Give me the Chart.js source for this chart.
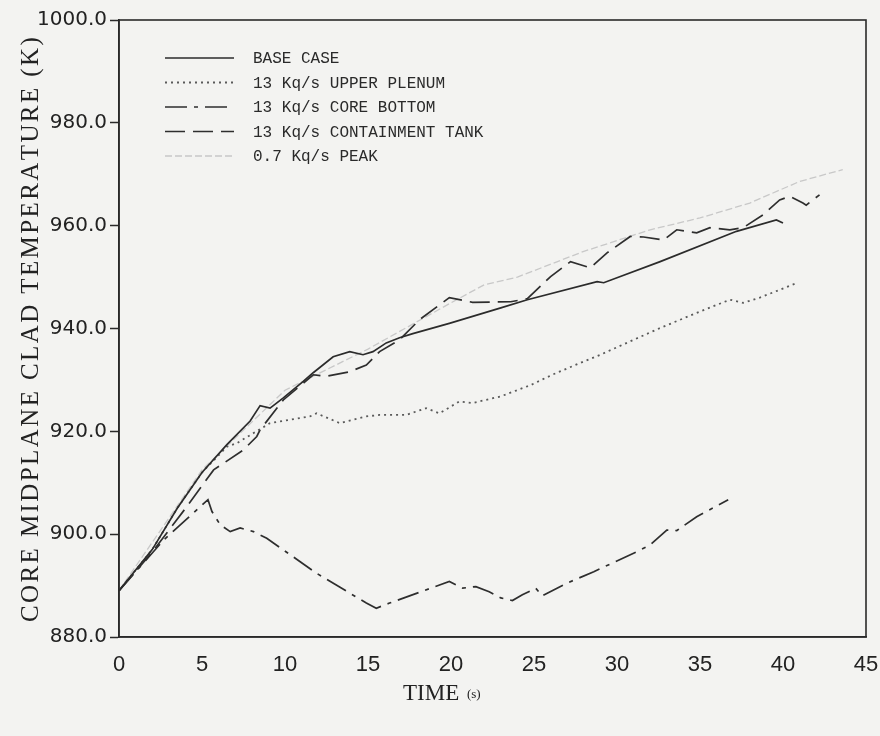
<!DOCTYPE html>
<html>
<head>
<meta charset="utf-8">
<script src="https://cdn.jsdelivr.net/npm/chart.js@4.4.1/dist/chart.umd.min.js"></script>
<style>
  html, body { margin: 0; padding: 0; background: #f3f3f1; }
  #wrap { width: 880px; height: 736px; position: relative; }
</style>
</head>
<body>
<div id="wrap"><canvas id="c" width="880" height="736"></canvas></div>
<script>
// ---- data (time in s, temperature in K) ----
const seriesLabels = ["BASE CASE", "13 Kq/s UPPER PLENUM", "13 Kq/s CORE BOTTOM", "13 Kq/s CONTAINMENT TANK", "0.7 Kq/s PEAK"];
const yTitleText = "CORE MIDPLANE CLAD TEMPERATURE (K)";

const baseTime = [0, 2, 3.5, 5, 6.5, 7.9, 8.5, 9.1, 9.9, 11.1, 11.7, 12.9, 13.9, 14.7, 15.3, 16.1, 16.9, 17.7, 19.9, 23, 24.6, 28.8, 29.2, 32.6, 37.2, 39.6, 40];
const baseTemp = [889, 897, 905, 912, 917.4, 922, 925, 924.5, 926.5, 929.7, 931.4, 934.5, 935.5, 934.9, 935.5, 937.2, 938.2, 939, 941, 944, 945.6, 949.1, 948.9, 953, 958.9, 961.1, 960.5];

const upperTime = [0, 2, 3.5, 5, 6.5, 7.1, 9.1, 11.5, 11.9, 13.3, 14.9, 15.7, 17.3, 18.5, 19.3, 20.5, 21.3, 23, 24.8, 26.1, 28, 29, 31, 32.6, 35, 36.8, 37.6, 38.6, 40.8];
const upperTemp = [889, 897, 905, 912, 917, 917.7, 921.6, 922.9, 923.5, 921.6, 922.9, 923.2, 923.2, 924.5, 923.5, 925.8, 925.5, 926.8, 929, 931, 933.6, 934.9, 937.8, 940.1, 943.3, 945.6, 945, 946, 948.8];

const bottomTime = [0, 2.7, 5.36, 5.6, 6.1, 6.7, 7.3, 8.1, 8.9, 11.9, 14.9, 15.5, 16.3, 19.9, 20.7, 21.5, 22.3, 23, 23.7, 24.3, 25.1, 25.5, 27, 28.6, 31.2, 32, 33, 33.6, 34.8, 36.7];
const bottomTemp = [889, 898.9, 906.7, 904.4, 901.8, 900.5, 901.2, 900.5, 899.2, 892.4, 886.6, 885.6, 886.6, 890.8, 889.5, 889.8, 888.8, 887.6, 887.1, 888.2, 889.5, 888, 890.5, 892.7, 896.6, 897.9, 900.8, 900.7, 903.4, 906.7];

const tankTime = [0, 2, 4, 5.7, 7.5, 8.3, 8.5, 9.9, 11.7, 12.5, 13.9, 14.9, 15.7, 16.9, 18.1, 19.9, 21.3, 23.6, 24.6, 26, 27.2, 28.4, 29.4, 30.8, 31.6, 32.8, 33.6, 34.8, 35.6, 36.8, 37.6, 38.8, 39.8, 40.4, 41.2, 41.4, 42.2];
const tankTemp = [889, 896.5, 905, 912.5, 916.4, 919, 920.3, 926.1, 931, 930.7, 931.6, 932.9, 935.5, 937.8, 941.7, 946, 945.1, 945.2, 945.8, 950.1, 953, 951.8, 954.7, 957.9, 957.8, 957.2, 959.2, 958.6, 959.6, 959.2, 959.6, 962.1, 965, 965.7, 964.4, 964, 966];

const peakTime = [0, 5, 10, 15, 20, 22, 24, 28, 32, 35, 38, 41, 43.6];
const peakTemp = [889, 912.5, 928, 936, 945, 948.5, 950, 955, 959.2, 961.5, 964.4, 968.6, 970.9];

const xTicks = [0, 5, 10, 15, 20, 25, 30, 35, 40, 45];
const yTicks = [880, 900, 920, 940, 960, 980, 1000];

function pts(t, v) { return t.map((x, i) => ({ x: x, y: v[i] })); }

const styles = [
  { color: '#2b2b2b', width: 1.7, dash: [] },
  { color: '#5a5a5a', width: 1.8, dash: [2, 4] },
  { color: '#2e2e2e', width: 1.7, dash: [22, 7, 4, 7] },
  { color: '#2e2e2e', width: 1.7, dash: [20, 8] },
  { color: '#c8c8c8', width: 1.3, dash: [7, 3] }
];
const seriesData = [
  pts(baseTime, baseTemp),
  pts(upperTime, upperTemp),
  pts(bottomTime, bottomTemp),
  pts(tankTime, tankTemp),
  pts(peakTime, peakTemp)
];

const datasets = seriesLabels.map((lab, i) => ({
  label: lab,
  data: seriesData[i],
  borderColor: styles[i].color,
  borderWidth: styles[i].width,
  borderDash: styles[i].dash,
  pointRadius: 0,
  fill: false,
  tension: 0
}));

const bgPlugin = {
  id: 'bg',
  beforeDraw(chart) {
    const ctx = chart.ctx;
    ctx.save();
    ctx.fillStyle = '#f3f3f1';
    ctx.fillRect(0, 0, chart.width, chart.height);
    ctx.restore();
  }
};

const framePlugin = {
  id: 'frame',
  afterDraw(chart) {
    const { ctx, chartArea: a } = chart;
    ctx.save();
    ctx.strokeStyle = '#2a2a2a';
    ctx.lineWidth = 1.6;
    ctx.strokeRect(a.left, a.top, a.right - a.left, a.bottom - a.top);
    ctx.restore();
  }
};

const legendPlugin = {
  id: 'customLegend',
  afterDraw(chart) {
    const ctx = chart.ctx;
    const x0 = 165, x1 = 234, tx = 253, y0 = 58, dy = 24.5;
    ctx.save();
    chart.data.datasets.forEach((ds, i) => {
      const y = y0 + i * dy;
      ctx.strokeStyle = ds.borderColor;
      ctx.lineWidth = ds.borderWidth;
      ctx.setLineDash(ds.borderDash);
      ctx.beginPath();
      ctx.moveTo(x0, y);
      ctx.lineTo(x1, y);
      ctx.stroke();
      ctx.setLineDash([]);
      ctx.fillStyle = '#2a2a2a';
      ctx.font = '16px "Liberation Mono", "Courier New", monospace';
      ctx.textBaseline = 'middle';
      ctx.textAlign = 'left';
      ctx.fillText(ds.label, tx, y + 1);
    });
    ctx.restore();
  }
};

const titlesPlugin = {
  id: 'titles',
  afterDraw(chart) {
    const ctx = chart.ctx;
    ctx.save();
    ctx.fillStyle = '#222';
    // x title
    ctx.textBaseline = 'alphabetic';
    ctx.textAlign = 'left';
    ctx.font = '23px "Liberation Serif", serif';
    const main = 'TIME ';
    const w = ctx.measureText(main).width;
    const x = 403;
    ctx.fillText(main, x, 700);
    ctx.font = '13px "Liberation Serif", serif';
    ctx.fillText('(s)', x + w + 2, 698);
    // y title (rotated, stretched to span like the reference)
    ctx.font = '25px "Liberation Serif", serif';
    const natural = ctx.measureText(yTitleText).width;
    const target = 582;
    const spacing = (target - natural) / (yTitleText.length - 1);
    ctx.translate(38, 331);
    ctx.rotate(-Math.PI / 2);
    ctx.textAlign = 'left';
    let cx = -target / 2;
    for (const ch of yTitleText) {
      ctx.fillText(ch, cx, 0);
      cx += ctx.measureText(ch).width + spacing;
    }
    ctx.restore();
  }
};

new Chart(document.getElementById('c'), {
  type: 'line',
  data: { datasets: datasets },
  options: {
    responsive: false,
    animation: false,
    layout: { padding: { top: 20, right: 0, left: 0, bottom: 0 } },
    plugins: { legend: { display: false }, tooltip: { enabled: false } },
    scales: {
      x: {
        type: 'linear',
        min: 0, max: 45,
        afterFit(s) { s.height = 99; s.paddingRight = 14; s.paddingLeft = 0; },
        afterBuildTicks(s) { s.ticks = xTicks.map(v => ({ value: v })); },
        grid: { display: false, drawOnChartArea: false, drawTicks: true, tickLength: 9, color: '#2a2a2a', tickColor: '#2a2a2a', tickWidth: 1.5 },
        border: { display: true, color: '#2a2a2a', width: 1.6 },
        ticks: {
          color: '#222',
          padding: 6,
          maxRotation: 0,
          font: { family: '"Liberation Sans Narrow", "Liberation Sans", Arial, sans-serif', size: 22 },
          callback: v => String(v)
        },
        title: { display: false }
      },
      y: {
        type: 'linear',
        min: 880, max: 1000,
        afterFit(s) { s.width = 119; s.paddingTop = 0; s.paddingBottom = 0; },
        afterBuildTicks(s) { s.ticks = yTicks.map(v => ({ value: v })); },
        grid: { display: true, drawOnChartArea: false, drawTicks: true, tickLength: 9, tickColor: '#2a2a2a', tickWidth: 1.5 },
        border: { display: true, color: '#2a2a2a', width: 1.6 },
        ticks: {
          color: '#222',
          padding: 3,
          font: { family: '"DejaVu Sans", sans-serif', size: 20 },
          callback: v => Number(v).toFixed(1)
        },
        title: { display: false }
      }
    }
  },
  plugins: [bgPlugin, framePlugin, legendPlugin, titlesPlugin]
});
</script>
</body>
</html>
